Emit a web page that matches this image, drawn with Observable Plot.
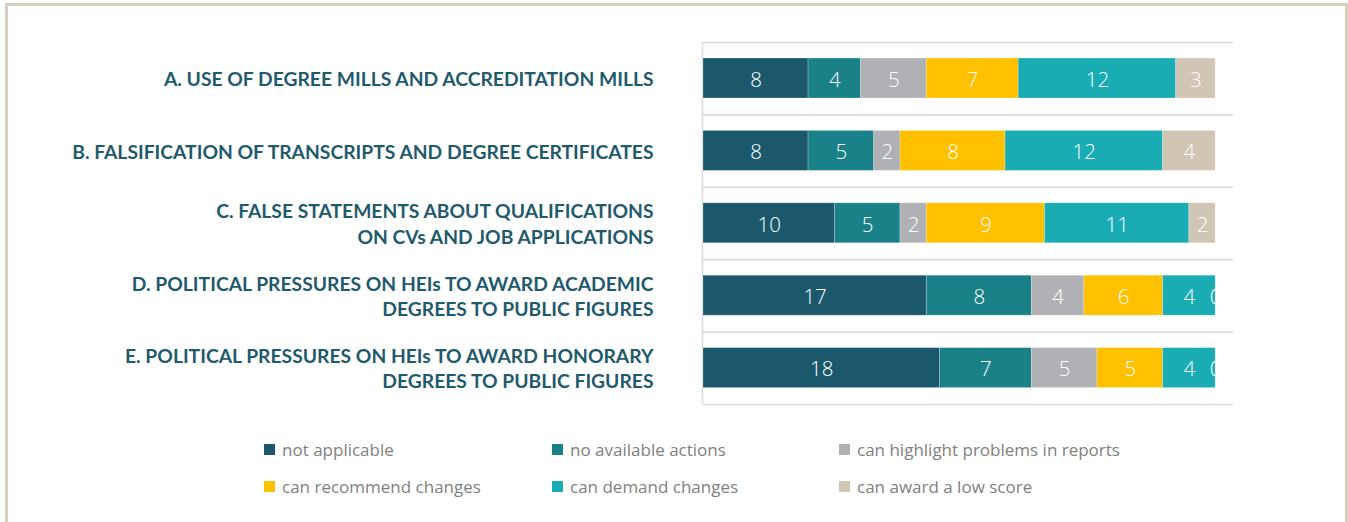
<!DOCTYPE html>
<html><head><meta charset="utf-8">
<script src="https://cdn.jsdelivr.net/npm/d3@7"></script>
<script src="https://cdn.jsdelivr.net/npm/@observablehq/plot@0.6"></script>
<style>
body{margin:0;background:#fff}
#wrap{position:relative;width:1348px;height:522px;overflow:hidden;background:#fff}
#frame{position:absolute;left:5px;top:3px;width:1343px;height:600px;border:3px solid #d6cebe;box-sizing:border-box}
#chart{position:absolute;left:0;top:0}
#legend{position:absolute;left:264px;top:438px;display:grid;grid-template-columns:288px 287px 300px;row-gap:15px;font-family:"Open Sans",sans-serif;font-size:17px;color:#7f7f7f}
.it{display:flex;align-items:center;height:22px;white-space:nowrap}
.sw{width:11px;height:11px;margin-right:7px;flex:none}
</style></head>
<body><div id="wrap"><div id="frame"></div><div id="chart"></div><div id="legend"></div></div>
<script>
const categories = [
  "A. USE OF DEGREE MILLS AND ACCREDITATION MILLS",
  "B. FALSIFICATION OF TRANSCRIPTS AND DEGREE CERTIFICATES",
  "C. FALSE STATEMENTS ABOUT QUALIFICATIONS\nON CVs AND JOB APPLICATIONS",
  "D. POLITICAL PRESSURES ON HEIs TO AWARD ACADEMIC\nDEGREES TO PUBLIC FIGURES",
  "E. POLITICAL PRESSURES ON HEIs TO AWARD HONORARY\nDEGREES TO PUBLIC FIGURES"
];
const seriesNames = ["not applicable","no available actions","can highlight problems in reports","can recommend changes","can demand changes","can award a low score"];
const notApplicable = [8, 8, 10, 17, 18];
const noActions     = [4, 5, 5, 8, 7];
const highlight     = [5, 2, 2, 4, 5];
const recommend     = [7, 8, 9, 6, 5];
const demand        = [12, 12, 11, 4, 4];
const lowScore      = [3, 4, 2, 0, 0];
const colors = ["#1b586c","#1a8189","#b0b1b4","#ffc000","#1aacb3","#cfc6b3"];

const seriesValues = [notApplicable, noActions, highlight, recommend, demand, lowScore];
const rows = [];
categories.forEach((c, i) => {
  let acc = 0;
  seriesValues.forEach((vals, s) => {
    const v = vals[i];
    rows.push({cat: c, i, series: seriesNames[s], value: v, x1: acc, x2: acc + v});
    acc += v;
  });
});
const labelRows = categories.map((c, i) => ({cat: c, i}));
const edges = d3.range(categories.length + 1);

const W = 1348, H = 420;
const plot = Plot.plot({
  width: W, height: H,
  marginLeft: 703, marginRight: 115, marginTop: 42, marginBottom: 16,
  x: {domain: [0, 40.36], axis: null},
  y: {domain: [0, categories.length], reverse: true, axis: null},
  color: {domain: seriesNames, range: colors},
  style: {fontFamily: "'Open Sans', sans-serif", background: "transparent"},
  marks: [
    Plot.ruleY(edges, {y: d => d, x1: 0, x2: 40.36, stroke: "#dcdcdc", strokeWidth: 1.6}),
    Plot.ruleX([0], {y1: 0, y2: categories.length, stroke: "#dcdcdc", strokeWidth: 1.6, dx: -1}),
    Plot.rectX(rows, {x1: "x1", x2: "x2", y1: d => d.i, y2: d => d.i + 1, insetTop: 16, insetBottom: 16.4, fill: "series", stroke: "white", strokeOpacity: 0.35, strokeWidth: 0.7}),
    Plot.text(rows, {x: d => (d.x1 + d.x2) / 2, y: d => d.i + 0.5, text: d => String(d.value), fill: "white", fontSize: 20.5, fontWeight: 300, dy: 1.5}),
    Plot.text(labelRows, {x: 0, y: d => d.i + 0.5, text: "cat", textAnchor: "end", dx: -50, dy: -0.5, fill: "#1f5a6d", fontSize: 19.3, fontWeight: 700, lineHeight: 1.3, fontFamily: "Lato, sans-serif"})
  ]
});
document.getElementById("chart").appendChild(plot);

const leg = document.getElementById("legend");
seriesNames.forEach((name, s) => {
  const it = document.createElement("div");
  it.className = "it";
  it.innerHTML = `<span class="sw" style="background:${colors[s]}"></span><span>${name}</span>`;
  leg.appendChild(it);
});
</script></body></html>
